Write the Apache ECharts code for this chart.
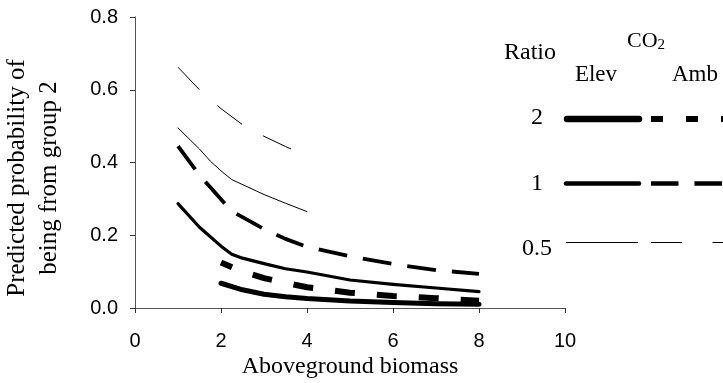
<!DOCTYPE html>
<html>
<head>
<meta charset="utf-8">
<style>
  html, body { margin: 0; padding: 0; background: #fff; }
  #chart { width: 723px; height: 383px; }
</style>
<script src="https://cdn.jsdelivr.net/npm/echarts@6/dist/echarts.min.js"></script>
</head>
<body>
<div id="chart"></div>
<script>
// Predicted probability curves, by biomass ratio and CO2 treatment
const xTicks = [0, 2, 4, 6, 8, 10];
const yTicks = [0.0, 0.2, 0.4, 0.6, 0.8];

const biomass05 = [1.0, 1.5, 1.75, 2.0, 2.25, 3.0, 3.5, 4.0];
const ratio05Elev = [0.495, 0.437, 0.404, 0.377, 0.353, 0.312, 0.288, 0.265];

const biomass05Amb = [1.0, 1.5, 2.0, 2.5, 3.0, 3.5, 4.0];
const ratio05Amb = [0.662, 0.600, 0.548, 0.504, 0.472, 0.444, 0.418];

const biomass1 = [1.0, 1.5, 2.0, 2.25, 2.5, 3.0, 3.5, 4.0, 5.0, 6.0, 7.0, 8.0];
const ratio1Elev = [0.287, 0.222, 0.170, 0.148, 0.137, 0.122, 0.108, 0.099, 0.077, 0.065, 0.055, 0.045];
const ratio1Amb = [0.445, 0.365, 0.299, 0.266, 0.250, 0.217, 0.190, 0.168, 0.142, 0.121, 0.104, 0.094];

const biomass2 = [2.0, 2.5, 3.0, 3.5, 4.0, 5.0, 6.0, 7.0, 8.0];
const ratio2Elev = [0.068, 0.050, 0.038, 0.031, 0.026, 0.019, 0.015, 0.012, 0.010];
const ratio2Amb = [0.125, 0.100, 0.082, 0.069, 0.057, 0.042, 0.033, 0.027, 0.020];

const pairs = (xs, ys) => xs.map((x, i) => [x, ys[i]]);

const serif = '"Liberation Serif", "Times New Roman", serif';
const sans = '"Liberation Sans", Arial, sans-serif';

function lineSeries(name, data, width, dash, offset, cap) {
  return {
    name: name,
    type: 'line',
    data: data,
    symbol: 'none',
    smooth: false,
    silent: true,
    lineStyle: {
      color: '#000',
      width: width,
      type: dash || 'solid',
      dashOffset: offset || 0,
      cap: cap || 'butt',
      join: 'round'
    }
  };
}

// legend line segments (key drawn at the right of the plot)
function keyLine(x1, x2, y, width, dash, cap) {
  return {
    type: 'line',
    shape: { x1: x1, y1: y, x2: x2, y2: y },
    style: { stroke: '#000', lineWidth: width, lineDash: dash || null, lineCap: cap || 'butt' },
    z: 10
  };
}
function keyText(x, y, text, size, align) {
  return {
    type: 'text',
    x: x, y: y,
    style: {
      text: text, fill: '#000', font: size + 'px ' + serif,
      align: align || 'center', verticalAlign: 'middle'
    },
    z: 10
  };
}

const chart = echarts.init(document.getElementById('chart'), null, { renderer: 'canvas' });

chart.setOption({
  animation: false,
  backgroundColor: '#fff',
  grid: { left: 135, top: 17, width: 430, height: 291, containLabel: false },
  xAxis: {
    type: 'value',
    min: xTicks[0], max: xTicks[xTicks.length - 1], interval: 2,
    axisLine: { show: true, onZero: false, lineStyle: { color: '#555', width: 1 } },
    axisTick: { show: true, inside: false, length: 5, lineStyle: { color: '#333' } },
    axisLabel: { margin: 23, color: '#000', fontFamily: sans, fontSize: 20 },
    splitLine: { show: false }
  },
  yAxis: {
    type: 'value',
    min: yTicks[0], max: yTicks[yTicks.length - 1], interval: 0.2,
    axisLine: { show: true, onZero: false, lineStyle: { color: '#555', width: 1 } },
    axisTick: { show: true, inside: false, length: 5, lineStyle: { color: '#333' } },
    axisLabel: {
      margin: 17, color: '#000', fontFamily: sans, fontSize: 20,
      formatter: v => v.toFixed(1)
    },
    splitLine: { show: false }
  },
  series: [
    lineSeries('Ratio 0.5 Amb', pairs(biomass05Amb, ratio05Amb), 1, [31, 24], 0, 'butt'),
    lineSeries('Ratio 0.5 Elev', pairs(biomass05, ratio05Elev), 1, 'solid', 0, 'round'),
    lineSeries('Ratio 1 Amb', pairs(biomass1, ratio1Amb), 3.8, [29, 16], 0, 'butt'),
    lineSeries('Ratio 1 Elev', pairs(biomass1, ratio1Elev), 3.2, 'solid', 0, 'round'),
    lineSeries('Ratio 2 Amb', pairs(biomass2, ratio2Amb), 6, [20, 22], 8, 'butt'),
    lineSeries('Ratio 2 Elev', pairs(biomass2, ratio2Elev), 5, 'solid', 0, 'round')
  ],
  graphic: [
    // axis titles
    {
      type: 'text',
      x: 350, y: 367,
      style: {
        text: 'Aboveground biomass', fill: '#000', font: '24px ' + serif,
        align: 'center', verticalAlign: 'middle'
      }
    },
    {
      type: 'text',
      x: 33, y: 178,
      rotation: Math.PI / 2,
      style: {
        text: 'Predicted probability of\nbeing from group 2', fill: '#000',
        font: '25px ' + serif, lineHeight: 32,
        align: 'center', verticalAlign: 'middle'
      }
    },
    // key headings
    keyText(530, 53, 'Ratio', 24),
    {
      type: 'text',
      x: 646, y: 41,
      style: {
        text: '{m|CO}{s|2}', fill: '#000', align: 'center', verticalAlign: 'middle',
        rich: {
          m: { font: '22px ' + serif, fill: '#000' },
          s: { font: '15px ' + serif, fill: '#000', padding: [9, 0, 0, 0] }
        }
      },
      z: 10
    },
    keyText(596, 75, 'Elev', 23),
    keyText(695, 75, 'Amb', 23),
    // key rows
    keyText(537, 118, '2', 24),
    keyLine(567, 639, 119, 6.5, null, 'round'),
    keyLine(651, 723, 119, 6, [12, 23]),
    keyText(537, 184, '1', 24),
    keyLine(566, 639, 183.5, 4.5, null, 'round'),
    keyLine(651, 723, 183.5, 4.5, [27.5, 16]),
    keyText(537, 249, '0.5', 24),
    keyLine(566, 638, 242.5, 1, null),
    keyLine(651, 723, 242.5, 1, [31, 30.5])
  ]
});
</script>
</body>
</html>
